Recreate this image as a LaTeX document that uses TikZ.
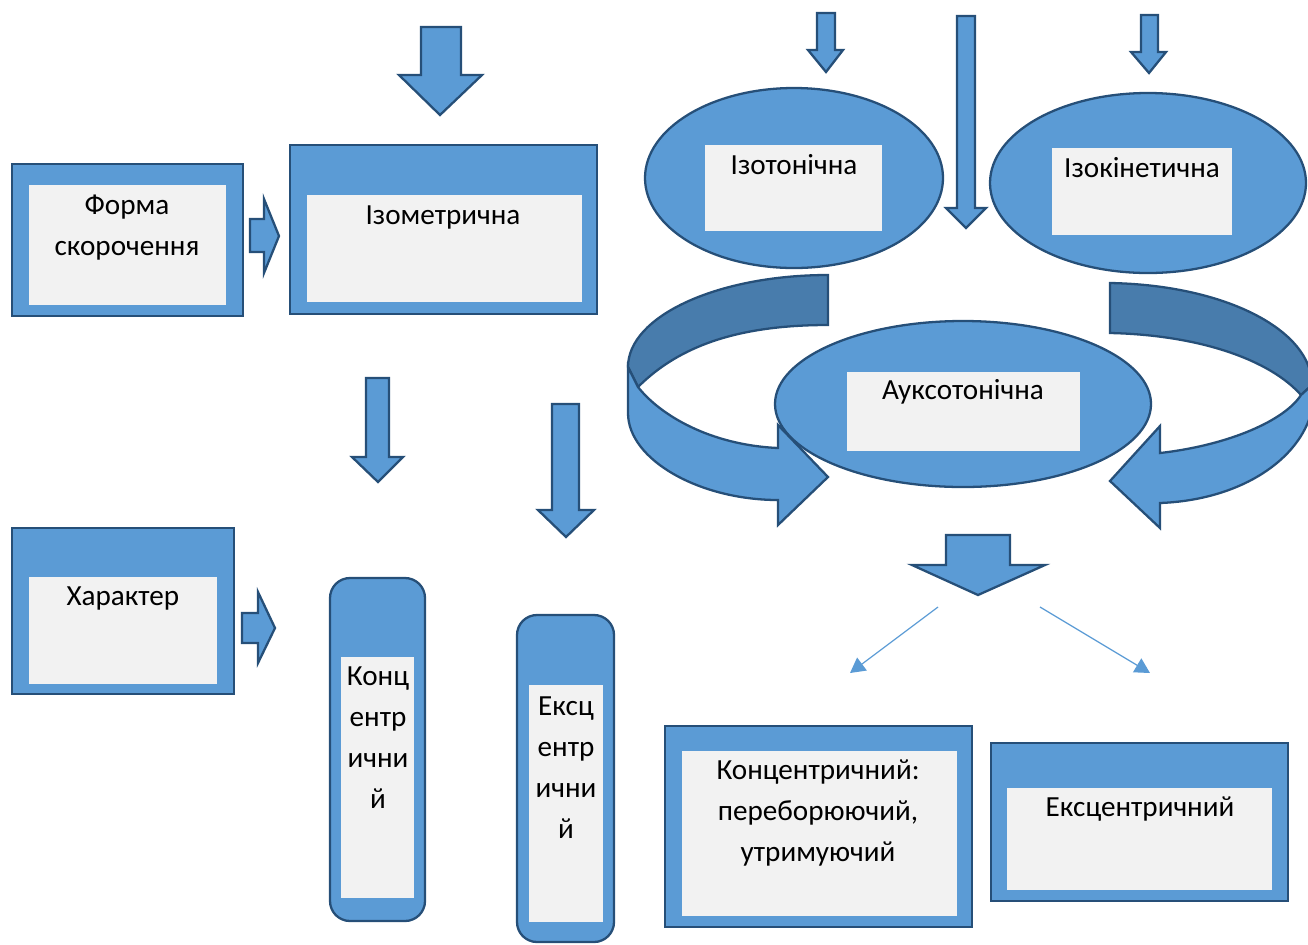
\documentclass[tikz,border=0pt]{standalone}
\usepackage{fontspec}
\setmainfont{Carlito}
\usetikzlibrary{arrows.meta}
\definecolor{bfill}{HTML}{5B9BD5}
\definecolor{bdraw}{HTML}{264F78}
\definecolor{dband}{HTML}{487CAC}
\definecolor{lgray}{HTML}{F2F2F2}
\begin{document}
\begin{tikzpicture}[x=0.02cm,y=-0.02cm,
  blk/.style={fill=bfill,draw=bdraw,line width=1.3pt,line join=miter},
  backband/.style={fill=dband,draw=bdraw,line width=1.3pt,line join=miter},
  innerbox/.style={fill=lgray},
  txt/.style={font=\fontsize{16.6}{23.3}\selectfont,align=center,inner sep=0pt,text=black},
  thinarrow/.style={draw=bfill,line width=0.7pt,-{Triangle[length=0.3cm,width=0.32cm]}}]
\useasboundingbox (0,0) rectangle (1308,944);

% Форма скорочення
\draw[blk] (12,164) rectangle (243,316);
\fill[innerbox] (29,185) rectangle (226,305);
\node[txt] (forma) at (127,228) {Форма\\скорочення};
\draw[blk] (250,219) -- (264,219) -- (264,199) -- (279,236) -- (264,273) -- (264,252) -- (250,252) -- cycle;

% Ізометрична
\draw[blk] (290,145) rectangle (597,314);
\fill[innerbox] (307,195) rectangle (582,302);
\node[txt] (izom) at (443,217) {Ізометрична};
\draw[blk] (421,27) -- (461,27) -- (461,75) -- (482,75) -- (440,115) -- (399,75) -- (421,75) -- cycle;

% Ізотонічна
\draw[blk] (794,178) ellipse [x radius=149, y radius=90];
\fill[innerbox] (705,145) rectangle (882,231);
\node[txt] (izot) at (794,165) {Ізотонічна};
\draw[blk] (817,13) -- (835,13) -- (835,50) -- (843,50) -- (826,72) -- (808,50) -- (817,50) -- cycle;

% long arrow
\draw[blk] (957,16) -- (975,16) -- (975,208) -- (986,208) -- (966,228) -- (946,208) -- (957,208) -- cycle;

% Ізокінетична
\draw[blk] (1148,183) ellipse [x radius=158, y radius=90];
\fill[innerbox] (1052,148) rectangle (1232,235);
\node[txt] (izok) at (1142,168) {Ізокінетична};
\draw[blk] (1141,15) -- (1158,15) -- (1158,52) -- (1166,52) -- (1149,73) -- (1131,52) -- (1141,52) -- cycle;

% Ауксотонічна
\draw[blk] (963,404) ellipse [x radius=188, y radius=83];
\fill[innerbox] (847,372) rectangle (1080,451);
\node[txt] (auks) at (963,392) {Ауксотонічна};

% left curved arrow
\draw[backband] (828,275) .. controls (718,275) and (628,316) .. (628,367)
  -- (638,387) .. controls (680,345) and (740,325) .. (828,325) -- cycle;
\draw[blk] (628,367) -- (628,413) .. controls (628,460) and (700,500) .. (778,500)
  -- (778,525) -- (828,477) -- (778,425) -- (778,448)
  .. controls (710,445) and (660,415) .. (638,387) -- cycle;

% right curved arrow
\draw[backband] (1110,283) .. controls (1225,285) and (1312,330) .. (1312,385)
  -- (1301,395) .. controls (1270,360) and (1200,335) .. (1110,333) -- cycle;
\draw[blk] (1312,385) -- (1312,410) .. controls (1300,460) and (1240,500) .. (1160,503)
  -- (1160,528) -- (1110,481) -- (1160,426) -- (1160,453)
  .. controls (1230,445) and (1285,420) .. (1301,395) -- cycle;

% down arrow below
\draw[blk] (946,535) -- (1010,535) -- (1010,565) -- (1045,565) -- (978,595) -- (912,565) -- (946,565) -- cycle;
\coordinate (s1) at (938,607);
\coordinate (e1) at (850,673);
\coordinate (s2) at (1040,607);
\coordinate (e2) at (1150,673);
\draw[thinarrow] (s1) -- (e1);
\draw[thinarrow] (s2) -- (e2);

% mid down arrows
\draw[blk] (366,378) -- (389,378) -- (389,457) -- (403,457) -- (378,482) -- (352,457) -- (366,457) -- cycle;
\draw[blk] (552,404) -- (579,404) -- (579,510) -- (594,510) -- (566,537) -- (538,510) -- (552,510) -- cycle;

% Характер
\draw[blk] (12,528) rectangle (234,694);
\fill[innerbox] (29,577) rectangle (217,684);
\node[txt] (har) at (123,598) {Характер};
\draw[blk] (242,613) -- (258,613) -- (258,592) -- (275,628) -- (258,663) -- (258,643) -- (242,643) -- cycle;

% Концентричний vertical
\draw[blk,rounded corners=0.4cm] (330,578) rectangle (425,921);
\fill[innerbox] (341,657) rectangle (414,898);
\node[txt] (konc) at (378,738) {Конц\\ентр\\ични\\й};

% Ексцентричний vertical
\draw[blk,rounded corners=0.4cm] (517,615) rectangle (614,942);
\fill[innerbox] (529,685) rectangle (603,922);
\node[txt] (eksc) at (566,768) {Ексц\\ентр\\ични\\й};

% Концентричний box
\draw[blk] (665,726) rectangle (972,927);
\fill[innerbox] (682,751) rectangle (957,916);
\node[txt] (koncb) at (818,813) {Концентричний:\\переборюючий,\\утримуючий};

% Ексцентричний box
\draw[blk] (991,743) rectangle (1288,901);
\fill[innerbox] (1007,788) rectangle (1272,890);
\node[txt] (ekscb) at (1140,809) {Ексцентричний};
\end{tikzpicture}
\end{document}
